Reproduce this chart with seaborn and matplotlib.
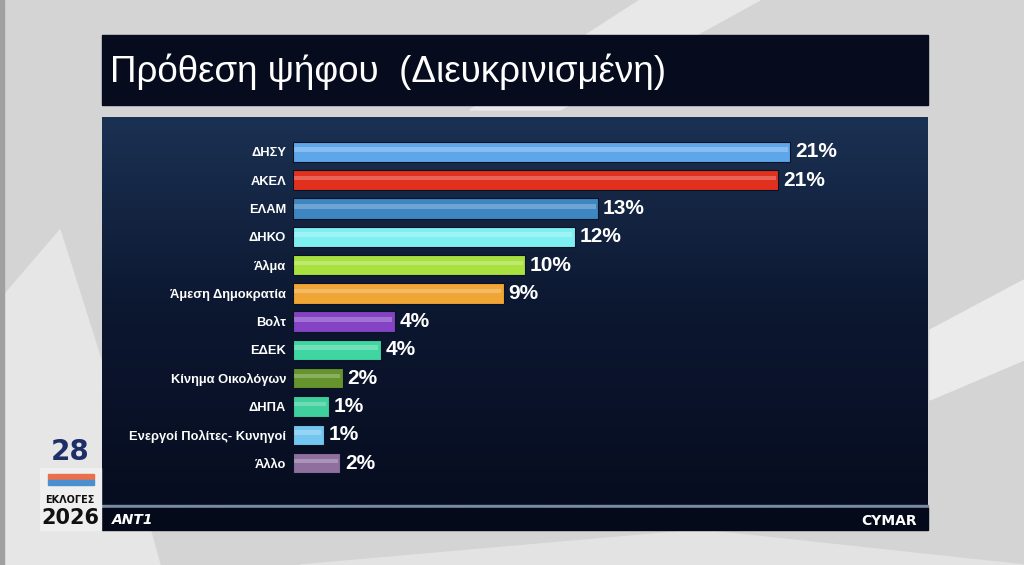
import numpy as np
import pandas as pd
import matplotlib
matplotlib.use("Agg")
import matplotlib.pyplot as plt
from matplotlib.patches import Rectangle, Polygon
import seaborn as sns

# Data
parties = ["ΔΗΣΥ", "ΑΚΕΛ", "ΕΛΑΜ", "ΔΗΚΟ", "Άλμα", "Άμεση Δημοκρατία", "Βολτ",
           "ΕΔΕΚ", "Κίνημα Οικολόγων", "ΔΗΠΑ", "Ενεργοί Πολίτες- Κυνηγοί", "Άλλο"]
values = [21.0, 20.5, 12.9, 11.9, 9.8, 8.9, 4.3, 3.7, 2.1, 1.5, 1.3, 2.0]
labels = ["21%", "21%", "13%", "12%", "10%", "9%", "4%", "4%", "2%", "1%", "1%", "2%"]
colors = ["#5ea6ea", "#e2301f", "#3d86c2", "#7ef0f2", "#a9e13f", "#f0a534", "#8443c4",
          "#3fd6a2", "#66942c", "#3fd09e", "#72c6f0", "#8e6f9e"]

df = pd.DataFrame({"party": parties, "value": values})
palette = dict(zip(parties, colors))

W, H = 1024, 565
fig = plt.figure(figsize=(W / 100, H / 100), dpi=100)

# background layer in pixel coords
bg = fig.add_axes([0, 0, 1, 1])
bg.set_xlim(0, W)
bg.set_ylim(H, 0)
bg.axis("off")
bg.add_patch(Rectangle((0, 0), W, H, color="#d4d4d4", zorder=0))
bg.add_patch(Polygon([[0, 300], [0, 565], [160, 565], [120, 420], [60, 230]],
                     color="#e6e6e6", zorder=1))
bg.add_patch(Polygon([[640, 0], [760, 0], [560, 110], [470, 110]], color="#e8e8e8", zorder=1))
bg.add_patch(Polygon([[930, 330], [1024, 280], [1024, 360], [930, 400]], color="#ebebeb", zorder=1))
bg.add_patch(Polygon([[300, 565], [700, 530], [1024, 565]], color="#e3e3e3", zorder=1))
bg.add_patch(Rectangle((0, 0), 4, H, color="#a0a0a0", zorder=1))

# title box
bg.add_patch(Rectangle((102, 35), 826, 70, color="#060b1d", zorder=2))
bg.text(110, 72, "Πρόθεση ψήφου  (Διευκρινισμένη)", color="white", fontsize=26.5,
        family=["Liberation Sans", "DejaVu Sans"],
        va="center", ha="left", zorder=3)

# main panel with vertical gradient
grad = np.linspace(0, 1, 256).reshape(-1, 1)
cmap = matplotlib.colors.LinearSegmentedColormap.from_list("p", ["#1b3153", "#0c1730", "#070d20"])
bg.imshow(grad, extent=[102, 928, 505, 117], cmap=cmap, aspect="auto", zorder=2)
bg.add_patch(Rectangle((102, 505), 826, 3, color="#7a8aa0", zorder=2))
bg.add_patch(Rectangle((102, 508), 826, 22, color="#050a1a", zorder=2))
bg.text(112, 520, "ANT1", color="white", fontsize=10, fontweight="bold", style="italic",
        va="center", ha="left", zorder=3)
bg.text(917, 521, "CYMAR", color="white", fontsize=10, fontweight="bold",
        va="center", ha="right", zorder=3)

# election badge
bg.text(70, 452, "28", color="#1d2f66", fontsize=20, fontweight="bold",
        ha="center", va="center", zorder=3)
bg.add_patch(Rectangle((40, 468), 61, 62, color="#efefef", zorder=2))
bg.add_patch(Rectangle((48, 474), 46, 6, color="#e8704a", zorder=3))
bg.add_patch(Rectangle((48, 480), 46, 5, color="#4a90d0", zorder=3))
bg.text(70, 500, "ΕΚΛΟΓΕΣ", color="#111111", fontsize=7, fontweight="bold",
        ha="center", va="center", zorder=3)
bg.text(70, 518, "2026", color="#111111", fontsize=15, fontweight="bold",
        ha="center", va="center", zorder=3)

# bar axes
x0, px_per = 293, 23.67
ax = fig.add_axes([x0 / W, 1 - 477.2 / H, (928 - x0) / W, 339.4 / H])
ax.patch.set_alpha(0)
sns.barplot(data=df, y="party", x="value", hue="party", palette=palette,
            orient="h", width=0.72, legend=False, ax=ax, saturation=1,
            edgecolor="#0a1226", linewidth=0.8)
# glossy highlight stripe
ax.barh(np.arange(len(parties)) - 0.08, df["value"] - 0.15, height=0.16,
        left=0.05, color="white", alpha=0.25, zorder=3)
ax.set_xlim(0, (928 - x0) / px_per)
ax.set_ylim(len(parties) - 0.5, -0.5)
ax.set_xlabel("")
ax.set_ylabel("")
ax.set_xticks([])
ax.tick_params(axis="y", length=0, pad=5)
for t in ax.get_yticklabels():
    t.set_color("white")
    t.set_fontsize(9.3)
    t.set_fontweight("bold")
    t.set_family(["Liberation Sans", "DejaVu Sans"])
for s in ax.spines.values():
    s.set_visible(False)

for i, (v, lab) in enumerate(zip(values, labels)):
    ax.text(v + 0.2, i, lab, color="white", fontsize=15, fontweight="bold",
            family=["Liberation Sans", "DejaVu Sans"], va="center", ha="left")

fig.savefig("out.png", dpi=100)
